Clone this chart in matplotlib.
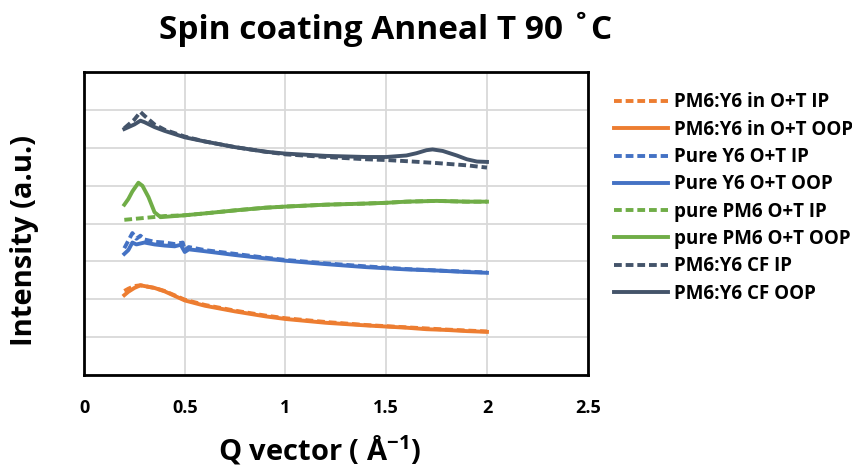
import matplotlib.pyplot as plt

plt.rcParams['font.family'] = ['Open Sans', 'DejaVu Sans']
plt.rcParams['font.weight'] = 'bold'
plt.rcParams['mathtext.fontset'] = 'custom'
plt.rcParams['mathtext.rm'] = 'Open Sans'
plt.rcParams['mathtext.bf'] = 'Open Sans:bold'

# orange: PM6:Y6 in O+T
q_or_ip = [0.2, 0.22, 0.25, 0.28, 0.3, 0.35, 0.4, 0.5, 0.6, 0.75, 0.9, 1.0, 1.2, 1.4, 1.5, 1.6, 1.8, 2.0]
or_ip = [2.22, 2.28, 2.35, 2.37, 2.35, 2.3, 2.22, 1.99, 1.85, 1.7, 1.57, 1.5, 1.4, 1.32, 1.29, 1.26, 1.2, 1.15]
q_or_oop = [0.2, 0.22, 0.25, 0.28, 0.3, 0.35, 0.4, 0.45, 0.5, 0.6, 0.75, 0.9, 1.0, 1.2, 1.4, 1.5, 1.6, 1.7, 1.8, 1.9, 2.0]
or_oop = [2.11, 2.2, 2.3, 2.37, 2.35, 2.3, 2.21, 2.09, 1.97, 1.83, 1.68, 1.55, 1.48, 1.38, 1.31, 1.28, 1.25, 1.21, 1.19, 1.16, 1.14]

# blue: Pure Y6 O+T
q_bl_ip = [0.2, 0.22, 0.24, 0.26, 0.28, 0.3, 0.35, 0.4, 0.45, 0.49, 0.5, 0.52, 0.6, 0.75, 0.9, 1.0, 1.2, 1.4, 1.6, 1.8, 2.0]
bl_ip = [3.35, 3.55, 3.75, 3.6, 3.68, 3.58, 3.52, 3.5, 3.46, 3.5, 3.3, 3.38, 3.3, 3.2, 3.1, 3.04, 2.95, 2.87, 2.8, 2.75, 2.71]
q_bl_oop = [0.2, 0.22, 0.24, 0.26, 0.3, 0.35, 0.4, 0.45, 0.48, 0.5, 0.52, 0.6, 0.75, 0.9, 1.0, 1.2, 1.4, 1.5, 1.6, 1.75, 1.9, 2.0]
bl_oop = [3.2, 3.3, 3.5, 3.45, 3.5, 3.45, 3.42, 3.4, 3.44, 3.25, 3.32, 3.27, 3.17, 3.08, 3.02, 2.93, 2.85, 2.82, 2.79, 2.76, 2.72, 2.7]

# green: pure PM6 O+T
q_gr_ip = [0.2, 0.3, 0.4, 0.5, 0.6, 0.75, 0.9, 1.0, 1.2, 1.4, 1.5, 1.6, 1.75, 1.9, 2.0]
gr_ip = [4.1, 4.15, 4.2, 4.22, 4.27, 4.35, 4.42, 4.45, 4.5, 4.53, 4.55, 4.58, 4.6, 4.58, 4.58]
q_gr_oop = [0.2, 0.22, 0.24, 0.27, 0.29, 0.32, 0.35, 0.38, 0.45, 0.5, 0.6, 0.75, 0.9, 1.0, 1.2, 1.4, 1.5, 1.6, 1.75, 1.9, 2.0]
gr_oop = [4.5, 4.65, 4.85, 5.08, 5.0, 4.7, 4.3, 4.17, 4.2, 4.22, 4.27, 4.35, 4.42, 4.45, 4.5, 4.53, 4.55, 4.58, 4.6, 4.58, 4.58]

# navy: PM6:Y6 CF
q_cf_ip = [0.2, 0.25, 0.28, 0.3, 0.35, 0.4, 0.5, 0.6, 0.75, 0.9, 1.0, 1.2, 1.4, 1.5, 1.6, 1.75, 1.9, 2.0]
cf_ip = [6.52, 6.75, 6.95, 6.85, 6.62, 6.48, 6.3, 6.17, 6.02, 5.9, 5.83, 5.76, 5.7, 5.68, 5.65, 5.6, 5.54, 5.48]
q_cf_oop = [0.2, 0.25, 0.28, 0.3, 0.35, 0.4, 0.5, 0.6, 0.75, 0.9, 1.0, 1.2, 1.4, 1.5, 1.6, 1.65, 1.7, 1.73, 1.78, 1.85, 1.9, 1.95, 2.0]
cf_oop = [6.5, 6.62, 6.72, 6.68, 6.55, 6.45, 6.28, 6.17, 6.02, 5.9, 5.85, 5.79, 5.76, 5.76, 5.8, 5.86, 5.94, 5.96, 5.92, 5.8, 5.7, 5.64, 5.63]

labels = ['PM6:Y6 in O+T IP', 'PM6:Y6 in O+T OOP', 'Pure Y6 O+T IP', 'Pure Y6 O+T OOP',
          'pure PM6 O+T IP', 'pure PM6 O+T OOP', 'PM6:Y6 CF IP', 'PM6:Y6 CF OOP']
series = [(q_or_ip, or_ip), (q_or_oop, or_oop), (q_bl_ip, bl_ip), (q_bl_oop, bl_oop),
          (q_gr_ip, gr_ip), (q_gr_oop, gr_oop), (q_cf_ip, cf_ip), (q_cf_oop, cf_oop)]
colors = ['#ED7D31', '#ED7D31', '#4472C4', '#4472C4', '#70AD47', '#70AD47', '#44546A', '#44546A']

fig = plt.figure(figsize=(8.53, 4.72), dpi=100)
ax = fig.add_axes([0.0985, 0.2055, 0.5905, 0.6415])

for (q, y), c, lab in zip(series, colors, labels):
    if lab.endswith(' IP'):
        ax.plot(q, y, color=c, lw=2.8, ls=(0, (2.0, 1.0)), label=lab)
    else:
        ax.plot(q, y, color=c, lw=2.8, label=lab)

ax.set_xlim(0, 2.5)
ax.set_ylim(0, 8)
ax.set_xticks([0, 0.5, 1, 1.5, 2, 2.5])
ax.set_xticklabels(['0', '0.5', '1', '1.5', '2', '2.5'])
ax.set_yticks(range(9))
ax.set_yticklabels([])
ax.grid(True, color='#D9D9D9', lw=1.3)
ax.set_axisbelow(True)
ax.tick_params(axis='both', length=0, labelsize=13, pad=17)
for s in ax.spines.values():
    s.set_linewidth(2)
    s.set_color('black')

fig.text(0.452, 0.938, 'Spin coating Anneal T 90 ˚C', ha='center', va='center', fontsize=24, fontweight='bold')
fig.text(0.375, 0.025, 'Q vector ( Å$^{\\mathbf{-1}}$)', ha='center', va='baseline', fontsize=21, fontweight='bold')
fig.text(0.029, 0.49, 'Intensity (a.u.)', ha='center', va='center', rotation=90, fontsize=21, fontweight='bold')

leg = fig.legend(loc='upper left', bbox_to_anchor=(0.711, 0.82), frameon=False, fontsize=13.5,
                 handlelength=2.9, handletextpad=0.32, labelspacing=0.39, borderaxespad=0)
for h in leg.get_lines():
    h.set_linewidth(2.8)

fig.savefig('out.png', dpi=100)
